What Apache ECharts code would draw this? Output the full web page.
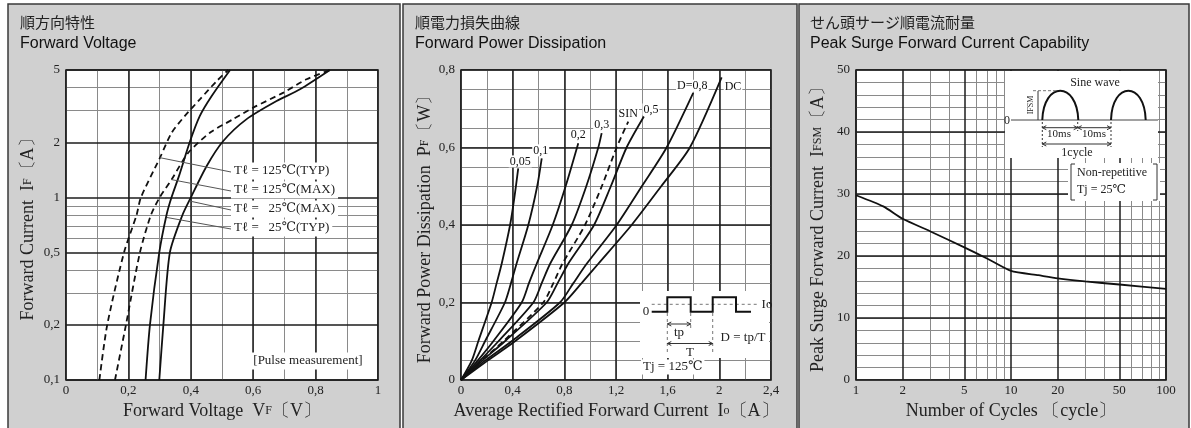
<!DOCTYPE html>
<html><head><meta charset="utf-8">
<script src="https://cdn.jsdelivr.net/npm/echarts@6/dist/echarts.min.js"></script>
<style>html,body{margin:0;padding:0;background:#fff}#c{width:1191px;height:428px}</style>
</head><body><div id="c"></div><script>
// ---------- Panel 1: Forward Voltage  [VF (V), IF (A)] ----------
const vf125Typ = [[0.107,0.1],[0.132,0.2],[0.186,0.5],[0.226,0.8],[0.24,1.0],[0.301,1.65],[0.339,2.27],[0.381,2.8],[0.429,3.45],[0.483,4.35],[0.52,5]];
const vf125Max = [[0.157,0.1],[0.192,0.2],[0.237,0.5],[0.272,0.8],[0.30,1.0],[0.339,1.26],[0.392,1.76],[0.462,2.27],[0.536,2.69],[0.6,3.11],[0.697,3.76],[0.771,4.45],[0.846,5]];
const vf25Max  = [[0.299,0.1],[0.312,0.2],[0.333,0.5],[0.373,0.8],[0.40,1.0],[0.451,1.49],[0.504,2.04],[0.579,2.69],[0.675,3.38],[0.75,3.92],[0.846,5]];
const vf25Typ  = [[0.255,0.1],[0.269,0.2],[0.299,0.5],[0.322,0.8],[0.338,1.0],[0.362,1.31],[0.397,2.02],[0.429,2.8],[0.467,3.6],[0.526,5]];
const ifMajorTicks = [0.1,0.2,0.5,1,2,5];
const ifMinorTicks = [0.3,0.4,0.6,0.7,0.8,0.9,3,4];

// ---------- Panel 2: Forward Power Dissipation  [Io (A), PF (W)] ----------
const pfD005 = [[0,0],[0.083,0.05],[0.134,0.1],[0.237,0.2],[0.276,0.25],[0.315,0.3],[0.38,0.4],[0.413,0.47],[0.443,0.546]];
const pfD01  = [[0,0],[0.108,0.05],[0.186,0.1],[0.34,0.2],[0.387,0.25],[0.43,0.3],[0.521,0.4],[0.59,0.5],[0.625,0.572]];
const pfD02  = [[0,0],[0.129,0.05],[0.25,0.1],[0.47,0.2],[0.526,0.25],[0.586,0.3],[0.71,0.4],[0.81,0.5],[0.908,0.611]];
const pfD03  = [[0,0],[0.147,0.05],[0.29,0.1],[0.56,0.2],[0.625,0.25],[0.69,0.3],[0.857,0.4],[0.97,0.5],[1.063,0.6],[1.089,0.637]];
const pfSin  = [[0,0],[0.16,0.05],[0.328,0.1],[0.637,0.2],[0.715,0.25],[0.785,0.3],[0.96,0.4],[1.09,0.5],[1.205,0.6],[1.295,0.667]];
const pfD05  = [[0,0],[0.165,0.05],[0.34,0.1],[0.663,0.2],[0.748,0.25],[0.83,0.3],[1.03,0.4],[1.16,0.5],[1.282,0.6],[1.416,0.68]];
const pfD08  = [[0,0],[0.186,0.05],[0.392,0.1],[0.766,0.2],[0.87,0.25],[0.973,0.3],[1.205,0.4],[1.4,0.5],[1.592,0.6],[1.798,0.741]];
const pfDC   = [[0,0],[0.206,0.05],[0.418,0.1],[0.8,0.2],[0.934,0.25],[1.063,0.3],[1.321,0.4],[1.55,0.5],[1.772,0.6],[2.018,0.781]];
const pfNames = ['0,05','0,1','0,2','0,3','SIN','0,5','D=0,8','DC'];

// ---------- Panel 3: Peak Surge Forward Current  [cycles, IFSM (A)] ----------
const surgeCurve = [[1,29.8],[1.5,28.0],[2,26.0],[3,24.0],[5,21.4],[7,19.6],[10,17.6],[15,16.9],[20,16.4],[30,15.9],[50,15.4],[100,14.7]];
const cycleMajorTicks = [1,2,5,10,20,50,100];
const cycleMinorTicks = [3,4,6,7,8,9,30,40,60,70,80,90];

const L10 = Math.log10;
const fmtDec = v => String(+(+v).toFixed(2)).replace('.', ',');
const serif = '"Liberation Serif","DejaVu Serif",serif';
const sans = '"Liberation Sans",Arial,sans-serif';
const jp = '"Noto Sans CJK JP","Liberation Sans",sans-serif';
const TXT = '#222';

function axis(major, gridIndex, o) {
  const a = {
    type: 'value', gridIndex, min: o.min, max: o.max, z: major ? 3 : 2,
    axisLine: {show: false},
    axisTick: {show: false},
    axisLabel: {show: major, color: TXT, fontFamily: serif, fontSize: 13, margin: o.margin == null ? 6 : o.margin, formatter: o.fmt || fmtDec},
    splitLine: {show: true, lineStyle: major ? {color: '#1c1c1c', width: 1.5} : {color: '#8a8a8a', width: 1}}
  };
  if (o.interval != null) a.interval = o.interval;
  if (o.custom) { a.axisTick.customValues = o.custom; a.axisLabel.customValues = o.custom; }
  if (o.name) {
    a.name = o.name; a.nameLocation = 'middle'; a.nameGap = o.gap;
    a.nameTextStyle = {color: TXT, fontFamily: serif, fontSize: 18, rich: {s: {fontFamily: serif, fontSize: 12, color: TXT}}};
  }
  return a;
}

const xAxis = [
  axis(true, 0, {min: 0, max: 1, interval: 0.2, name: 'Forward Voltage  V{s|F}〔V〕', gap: 21, margin: 4}),
  axis(false, 0, {min: 0, max: 1, interval: 0.1}),
  axis(true, 1, {min: 0, max: 2.4, interval: 0.4, name: 'Average Rectified Forward Current  I{s|o}〔A〕', gap: 21, margin: 4}),
  axis(false, 1, {min: 0, max: 2.4, interval: 0.2}),
  axis(true, 2, {min: 0, max: 2, custom: cycleMajorTicks.map(L10), fmt: v => String(Math.round(Math.pow(10, v))), name: 'Number of Cycles 〔cycle〕', gap: 21, margin: 4}),
  axis(false, 2, {min: 0, max: 2, custom: cycleMinorTicks.map(L10)})
];
const yAxis = [
  axis(true, 0, {min: L10(0.1), max: L10(5), custom: ifMajorTicks.map(L10), fmt: v => fmtDec(Math.pow(10, v)), name: 'Forward Current  I{s|F}〔A〕', gap: 29}),
  axis(false, 0, {min: L10(0.1), max: L10(5), custom: ifMinorTicks.map(L10)}),
  axis(true, 1, {min: 0, max: 0.8, interval: 0.2, name: 'Forward Power Dissipation  P{s|F}〔W〕', gap: 27}),
  axis(false, 1, {min: 0, max: 0.8, interval: 0.05}),
  axis(true, 2, {min: 0, max: 50, interval: 10, name: 'Peak Surge Forward Current  I{s|FSM}〔A〕', gap: 29}),
  axis(false, 2, {min: 0, max: 50, interval: 2})
];

function lineSeries(name, data, xi, yi, dashed, extra) {
  return Object.assign({
    type: 'line', name, xAxisIndex: xi, yAxisIndex: yi, data,
    showSymbol: false, symbol: 'none', smooth: 0.25, z: 5, silent: true,
    lineStyle: {color: '#111', width: 1.8, type: dashed ? [6, 4] : 'solid'}
  }, extra || {});
}
const logY = p => [p[0], L10(p[1])];
const logX = p => [L10(p[0]), p[1]];

function endLab(text, align, vAlign, offset) {
  return {endLabel: {show: true, formatter: text, align, verticalAlign: vAlign, distance: 0, offset,
    color: '#111', fontFamily: serif, fontSize: 12, backgroundColor: '#fff', padding: [0, 1]}};
}

const pfSets = [pfD005, pfD01, pfD02, pfD03, pfSin, pfD05, pfD08, pfDC];
const pfLabelPos = [
  ['center', 'bottom', [2, -1]], ['center', 'bottom', [-1, -2]], ['center', 'bottom', [0, -2]],
  ['center', 'bottom', [0, -2]], ['center', 'bottom', [0, -2]], ['center', 'bottom', [7, -1]],
  ['center', 'bottom', [-1, -1]], ['left', 'middle', [2, 9]]
];

const series = [
  lineSeries('Tl=125℃(TYP)', vf125Typ.map(logY), 0, 0, true),
  lineSeries('Tl=125℃(MAX)', vf125Max.map(logY), 0, 0, true),
  lineSeries('Tl=25℃(MAX)', vf25Max.map(logY), 0, 0, false),
  lineSeries('Tl=25℃(TYP)', vf25Typ.map(logY), 0, 0, false)
];
pfSets.forEach((d, i) => {
  const lp = pfLabelPos[i];
  series.push(lineSeries(pfNames[i], d, 2, 2, pfNames[i] === 'SIN', endLab(pfNames[i], lp[0], lp[1], lp[2])));
});
series.push(lineSeries('IFSM', surgeCurve.map(logX), 4, 4, false, {smooth: 0.2}));

// ---------- decorations (panel frames, insets, notes) ----------
const G = [];
function rect(x, y, w, h, fill, stroke, z) {
  G.push({type: 'rect', z: z, silent: true, shape: {x, y, width: w, height: h},
    style: {fill: fill, stroke: stroke || null, lineWidth: stroke ? 1.5 : 0}});
}
function seg(pts, c, w, dash) {
  G.push({type: 'polyline', z: 60, silent: true, shape: {points: pts},
    style: {stroke: c || '#111', lineWidth: w || 1, lineDash: dash || null, fill: null}});
}
function txt(x, y, text, o) {
  o = o || {};
  const el = {type: 'text', z: 70, silent: true, x, y,
    style: {text, fill: o.c || '#222', fontSize: o.fs || 13, fontFamily: o.ff || serif,
      align: o.a || 'center', verticalAlign: 'middle', backgroundColor: o.bg || null, padding: o.p || 0}};
  if (o.rot) el.rotation = o.rot;
  G.push(el);
}
function hArrow(x1, x2, y) {
  seg([[x1, y], [x2, y]], '#333', 1);
  seg([[x1 + 4, y - 2], [x1, y], [x1 + 4, y + 2]], '#333', 1);
  seg([[x2 - 4, y - 2], [x2, y], [x2 - 4, y + 2]], '#333', 1);
}

// panel frames
rect(8, 4, 392, 430, '#d0d0d0', '#3a3a3a', -10);
rect(403, 4, 394, 430, '#d0d0d0', '#3a3a3a', -10);
rect(799, 4, 390, 430, '#d0d0d0', '#3a3a3a', -10);

// panel 1 notes
const p1Notes = ['Tℓ = 125℃(TYP)', 'Tℓ = 125℃(MAX)', 'Tℓ =   25℃(MAX)', 'Tℓ =   25℃(TYP)'];
const p1Y = [171, 190, 209, 228];
const p1Tips = [[160, 157.7], [171, 179.5], [189.5, 201], [167, 217.5]];
p1Notes.forEach((t, i) => {
  seg([[231, p1Y[i] + 1], p1Tips[i]], '#555', 1);
  txt(231, p1Y[i], t, {a: 'left', bg: '#fff', p: [2, 3]});
});
txt(308, 361, '[Pulse measurement]', {bg: '#fff', p: [2, 2]});

// panel 2 inset
rect(640, 291, 129, 67, '#fff', null, 50);
txt(641, 367, 'Tj = 125℃', {a: 'left', bg: '#fff', p: [1, 2]});
seg([[651.7, 304.3], [757, 304.3]], '#777', 1, [3, 3]);
txt(767, 305, 'Io');
txt(646, 312, '0');
seg([[651.7, 311.7], [667.3, 311.7], [667.3, 297.3], [690.7, 297.3], [690.7, 311.7], [712.7, 311.7], [712.7, 297.3], [736, 297.3], [736, 311.7], [751, 311.7]], '#111', 2);
seg([[667.3, 313], [667.3, 352]], '#777', 1, [3, 3]);
seg([[712.7, 313], [712.7, 352]], '#777', 1, [3, 3]);
seg([[690.7, 313], [690.7, 328]], '#777', 1, [3, 3]);
hArrow(667.3, 690.7, 324);
txt(679, 333, 'tp');
hArrow(667.3, 712.7, 343.5);
txt(690, 353, 'T');
txt(743, 338, 'D = tp/T');

// panel 3 inset
rect(1005, 71, 153, 87, '#fff', null, 50);
txt(1095, 83, 'Sine wave', {fs: 12});
seg([[1011, 120], [1158, 120]], '#444', 1);
txt(1007, 121, '0', {fs: 12});
G.push({type: 'bezierCurve', z: 60, silent: true, shape: {x1: 1042.3, y1: 120, x2: 1078.3, y2: 120, cpx1: 1043.5, cpy1: 81, cpx2: 1077, cpy2: 81}, style: {stroke: '#111', lineWidth: 2, fill: null}});
G.push({type: 'bezierCurve', z: 60, silent: true, shape: {x1: 1111, y1: 120, x2: 1145.7, y2: 120, cpx1: 1112.2, cpy1: 81, cpx2: 1144.5, cpy2: 81}, style: {stroke: '#111', lineWidth: 2, fill: null}});
seg([[1033, 90.7], [1058, 90.7]], '#777', 1, [3, 2]);
seg([[1038, 91], [1038, 120]], '#333', 1);
txt(1031, 105, 'IFSM', {fs: 8, rot: Math.PI / 2});
seg([[1042.3, 122], [1042.3, 147]], '#333', 1, [2, 2]);
seg([[1077.7, 122], [1077.7, 131]], '#333', 1, [2, 2]);
seg([[1111, 122], [1111, 147]], '#333', 1, [2, 2]);
hArrow(1042.3, 1077.7, 127.7);
hArrow(1077.7, 1111, 127.7);
txt(1059, 134.5, '10ms', {fs: 11});
txt(1094, 134.5, '10ms', {fs: 11});
hArrow(1042.3, 1111, 144);
txt(1077, 153, '1cycle', {fs: 12});
rect(1068, 163, 92, 38, '#fff', null, 50);
seg([[1075, 164], [1071, 164], [1071, 200], [1075, 200]], '#333', 1);
seg([[1153, 164], [1157, 164], [1157, 200], [1153, 200]], '#333', 1);
txt(1077, 173, 'Non-repetitive', {a: 'left', fs: 12});
txt(1077, 190, 'Tj = 25℃', {a: 'left', fs: 12});

function ttl(left, t, sub) {
  return {text: t, subtext: sub, left, top: 15, padding: 0, itemGap: 6,
    textStyle: {fontSize: 15, fontWeight: 'normal', fontFamily: jp, color: '#222'},
    subtextStyle: {fontSize: 16, fontFamily: sans, color: '#111'}};
}

const grid = [66, 461, 856].map(l => ({left: l, top: 70, width: 312, height: 310, show: true,
  backgroundColor: '#fff', borderColor: '#111', borderWidth: 1.5, z: 0}));
grid[1].width = 310; grid[2].width = 310;

const chart = echarts.init(document.getElementById('c'), null, {renderer: 'canvas'});
chart.setOption({
  animation: false,
  backgroundColor: '#fff',
  title: [ttl(20, '順方向特性', 'Forward Voltage'), ttl(415, '順電力損失曲線', 'Forward Power Dissipation'), ttl(810, 'せん頭サージ順電流耐量', 'Peak Surge Forward Current Capability')],
  grid, xAxis, yAxis, series,
  graphic: {elements: G}
});
</script></body></html>
